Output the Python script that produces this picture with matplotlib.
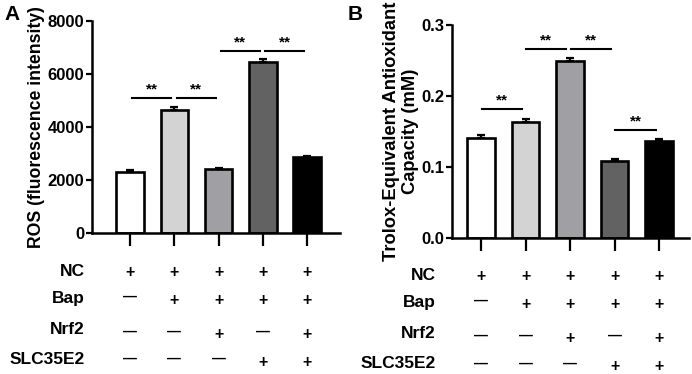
import matplotlib
matplotlib.use("Agg")
import matplotlib.pyplot as plt
from matplotlib.transforms import blended_transform_factory

plt.rcParams['font.family'] = ['Liberation Sans', 'DejaVu Sans']
plt.rcParams['font.weight'] = 'bold'

groups = ["G1", "G2", "G3", "G4", "G5"]
colors = ["#ffffff", "#d3d3d3", "#a0a0a4", "#626262", "#000000"]
ros_vals = [2300, 4650, 2420, 6450, 2850]
ros_err = [80, 100, 50, 120, 50]
teac_vals = [0.141, 0.164, 0.249, 0.109, 0.136]
teac_err = [0.004, 0.004, 0.004, 0.002, 0.003]

row_labels = ["NC", "Bap", "Nrf2", "SLC35E2"]
row_signs = [["+", "+", "+", "+", "+"],
             ["—", "+", "+", "+", "+"],
             ["—", "—", "+", "—", "+"],
             ["—", "—", "—", "+", "+"]]

# significance brackets: (from group, to group, height)
ros_sig = [(0, 1, 5090), (1, 2, 5090), (2, 3, 6870), (3, 4, 6870)]
teac_sig = [(0, 1, 0.182), (1, 2, 0.266), (2, 3, 0.266), (3, 4, 0.152)]

W, H = 692, 374
fig = plt.figure(figsize=(W / 100, H / 100), dpi=100)


def make_panel(rect, vals, errs, ylim, yticks, yticklabels, ylabel, ylabel_size, sig, xlim,
               letter, letter_xy, label_x, label_y, plus_y, minus_y, sig_shrink):
    ax = fig.add_axes(rect)
    x = list(range(len(vals)))
    ax.bar(x, vals, width=0.62, color=colors, edgecolor="black", linewidth=1.9, zorder=2)
    ax.errorbar(x, vals, yerr=[[0] * len(errs), errs], fmt="none", ecolor="black",
                elinewidth=1.6, capsize=3, capthick=1.6, zorder=3)
    ax.set_xlim(*xlim)
    ax.set_ylim(*ylim)
    ax.set_yticks(yticks)
    ax.set_yticklabels(yticklabels, fontsize=12, fontweight="bold")
    ax.set_xticks(x)
    ax.set_xticklabels([""] * len(x))
    ax.tick_params(axis="x", length=9, width=1.6, direction="out")
    ax.tick_params(axis="y", length=4, width=1.6, direction="out", pad=1.5)
    for s in ["top", "right"]:
        ax.spines[s].set_visible(False)
    for s in ["left", "bottom"]:
        ax.spines[s].set_linewidth(1.8)
    ax.set_ylabel(ylabel, fontsize=ylabel_size, fontweight="bold", labelpad=2, linespacing=1.1)
    span = ylim[1] - ylim[0]
    for a, b, h in sig:
        ax.plot([a + sig_shrink[0], b - sig_shrink[1]], [h, h], color="black", lw=1.5, clip_on=False)
        ax.text((a + b) / 2 + (sig_shrink[0] - sig_shrink[1]) / 2, h + span * 0.008, "**",
                ha="center", va="bottom", fontsize=11, fontweight="bold")
    fig.text(letter_xy[0] / W, 1 - letter_xy[1] / H, letter, fontsize=15, fontweight="bold",
             ha="left", va="center")
    tr = blended_transform_factory(ax.transData, fig.transFigure)
    for r, lab in enumerate(row_labels):
        fig.text(label_x / W, 1 - label_y[r] / H, lab, fontsize=12.5, fontweight="bold",
                 ha="right", va="center")
        for i, s in enumerate(row_signs[r]):
            yy = plus_y[r] if s == "+" else minus_y[r]
            ax.text(i, 1 - yy / H, s, transform=tr, ha="center", va="center",
                    fontsize=11.5 if s == "+" else 10, fontweight="bold")
    return ax


# Panel A
make_panel([92 / W, 1 - 233 / H, (340 - 92) / W, (233 - 21) / H],
           ros_vals, ros_err, (0, 8000), [0, 2000, 4000, 6000, 8000],
           ["0", "2000", "4000", "6000", "8000"], "ROS (fluorescence intensity)", 12.7,
           ros_sig, (-0.86, 4.74), "A", (4, 15), 85,
           [272, 299, 329, 359], [272, 301, 335, 362], [272, 297, 332, 359], (0.05, 0.07))

# Panel B
make_panel([452 / W, 1 - 238 / H, (689 - 452) / W, (238 - 25) / H],
           teac_vals, teac_err, (0, 0.3), [0.0, 0.1, 0.2, 0.3],
           ["0.0", "0.1", "0.2", "0.3"], "Trolox-Equivalent Antioxidant\nCapacity (mM)", 13.2,
           teac_sig, (-0.65, 4.67), "B", (348, 15), 436,
           [276, 303, 334, 364], [277, 305, 338, 366], [277, 301, 336, 364], (0.02, 0.08))

fig.savefig("out.png", dpi=100)
